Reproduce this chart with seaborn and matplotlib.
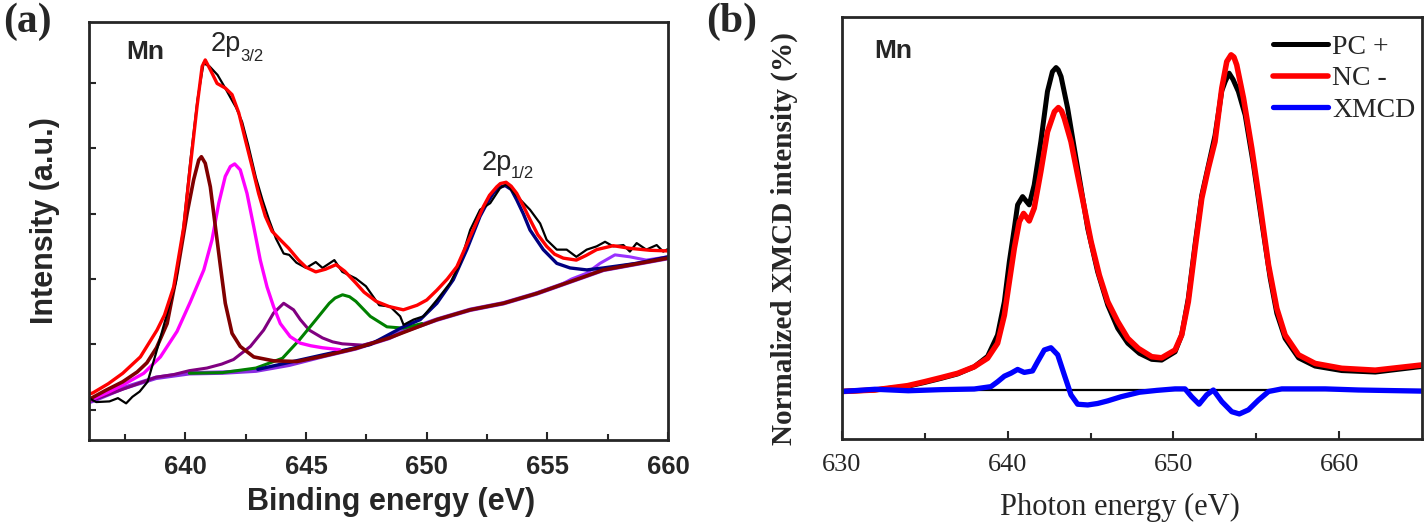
import numpy as np
import matplotlib
matplotlib.use("Agg")
import matplotlib.pyplot as plt
import seaborn as sns

# ---------------- panel (a): Mn 2p XPS ----------------
exp_e = [636.0, 636.3, 636.85, 637.2, 637.54, 637.8, 638.1, 638.43, 638.78, 639.13, 639.6, 639.9,
         640.2, 640.5, 640.75, 641.0, 641.33, 641.6, 641.9, 642.1, 642.35, 642.6, 642.92, 643.2,
         643.47, 643.75, 644.07, 644.3, 644.6, 645.0, 645.4, 645.68, 646.17, 646.5, 647.06, 647.48,
         648.03, 648.48, 648.9, 649.04, 649.45, 649.86, 650.42, 650.97, 651.38, 651.8, 652.21, 652.63,
         653.04, 653.3, 653.73, 654.28, 654.7, 654.97, 655.39, 655.8, 656.2, 656.63, 657.04, 657.39,
         657.73, 658.15, 658.42, 658.7, 659.1, 659.53, 659.8, 660.0]
exp_i = [1.18, 1.12, 1.13, 1.18, 1.10, 1.20, 1.28, 1.43, 1.87, 2.33, 2.95, 3.75,
         4.80, 5.75, 6.30, 6.25, 6.12, 5.95, 5.75, 5.62, 5.40, 5.05, 4.55, 4.20,
         3.90, 3.62, 3.39, 3.37, 3.25, 3.17, 3.26, 3.17, 3.29, 3.11, 3.01, 2.89,
         2.60, 2.58, 2.43, 2.30, 2.38, 2.43, 2.68, 2.94, 3.24, 3.75, 4.06, 4.16,
         4.39, 4.45, 4.27, 4.06, 3.85, 3.60, 3.45, 3.45, 3.34, 3.45, 3.50, 3.57,
         3.50, 3.52, 3.42, 3.55, 3.45, 3.52, 3.42, 3.46]

fit_e = [636.0, 636.16, 636.8, 637.4, 638.13, 638.82, 639.13, 639.51, 639.93, 640.2, 640.48, 640.69,
         640.82, 641.03, 641.31, 641.65, 641.93, 642.21, 642.48, 642.76, 643.03, 643.31, 643.59, 643.93,
         644.28, 644.69, 645.0, 645.4, 645.8, 646.24, 646.6, 647.06, 647.4, 647.9, 648.44, 649.03,
         649.6, 650.0, 650.42, 650.85, 651.25, 651.8, 652.35, 652.6, 652.9, 653.05, 653.29, 653.5,
         653.73, 654.0, 654.28, 654.6, 654.97, 655.3, 655.66, 656.2, 656.6, 657.04, 657.73, 658.42,
         659.25, 660.0]
fit_i = [1.24, 1.26, 1.40, 1.56, 1.81, 2.22, 2.45, 2.88, 3.80, 4.72, 5.64, 6.25,
         6.35, 6.20, 5.99, 5.92, 5.82, 5.54, 5.13, 4.72, 4.31, 3.96, 3.73, 3.60,
         3.47, 3.29, 3.18, 3.11, 3.15, 3.22, 3.12, 2.94, 2.80, 2.66, 2.58, 2.53,
         2.60, 2.68, 2.83, 3.00, 3.19, 3.65, 4.11, 4.28, 4.41, 4.46, 4.48, 4.42,
         4.31, 4.12, 3.91, 3.68, 3.50, 3.38, 3.32, 3.29, 3.36, 3.45, 3.51, 3.47,
         3.44, 3.43]

bg_e = [636.0, 636.16, 637.4, 638.78, 640.16, 641.54, 642.92, 644.3, 645.68, 647.06, 648.44, 649.03,
        650.42, 651.8, 653.18, 654.56, 655.94, 657.32, 660.0]
bg_i = [1.12, 1.14, 1.33, 1.49, 1.56, 1.57, 1.60, 1.69, 1.82, 1.94, 2.10, 2.20,
        2.38, 2.53, 2.63, 2.78, 2.96, 3.14, 3.32]

p1_e = [636.0, 636.7, 637.4, 638.0, 638.4, 638.8, 639.24, 639.65, 640.07, 640.34, 640.55, 640.66,
        640.82, 641.03, 641.24, 641.45, 641.65, 641.93, 642.27, 642.83, 643.65, 644.62, 645.68, 647.06,
        648.44, 650.42, 651.8, 653.18, 654.56, 655.94, 657.32, 660.0]
p1_i = [1.16, 1.30, 1.43, 1.58, 1.72, 1.95, 2.32, 3.09, 4.01, 4.52, 4.82, 4.87,
        4.77, 4.41, 3.80, 3.19, 2.63, 2.17, 1.97, 1.81, 1.75, 1.74, 1.82, 1.94,
        2.10, 2.38, 2.53, 2.63, 2.78, 2.96, 3.14, 3.32]

p2_e = [636.0, 636.8, 637.4, 638.27, 638.96, 639.65, 640.2, 640.76, 641.1, 641.38, 641.65, 641.86,
        642.04, 642.27, 642.55, 642.83, 643.1, 643.38, 643.65, 643.93, 644.34, 644.76, 645.2, 645.68,
        646.4]
p2_i = [1.14, 1.27, 1.38, 1.56, 1.81, 2.20, 2.65, 3.14, 3.60, 4.16, 4.57, 4.72,
        4.76, 4.67, 4.31, 3.80, 3.29, 2.88, 2.58, 2.32, 2.12, 2.02, 1.98, 1.95,
        1.92]

p3_e = [636.0, 638.78, 639.51, 640.16, 640.89, 641.5, 641.99, 642.69, 643.24, 643.65, 644.07, 644.48,
        644.76, 645.13, 645.68, 646.1, 646.5, 647.34, 648.0]
p3_i = [1.13, 1.50, 1.54, 1.60, 1.64, 1.70, 1.77, 1.97, 2.22, 2.48, 2.63, 2.53,
        2.38, 2.22, 2.10, 2.04, 2.01, 1.99, 2.05]

p4_e = [640.16, 641.54, 642.92, 644.02, 644.72, 645.41, 645.96, 646.2, 646.51, 646.8, 647.06, 647.66,
        648.35, 649.03, 649.8]
p4_i = [1.56, 1.57, 1.64, 1.79, 2.07, 2.38, 2.63, 2.71, 2.76, 2.73, 2.66, 2.43,
        2.27, 2.25, 2.32]

p5_e = [643.0, 645.68, 647.66, 649.03, 649.73, 650.42, 651.1, 651.66, 652.21, 652.5, 652.76, 653.0,
        653.25, 653.5, 653.73, 654.0, 654.28, 654.83, 655.39, 655.94, 656.63, 657.32, 658.7, 660.0]
p5_i = [1.62, 1.84, 2.00, 2.27, 2.38, 2.63, 2.99, 3.45, 3.96, 4.16, 4.31, 4.40,
        4.43, 4.37, 4.21, 4.00, 3.75, 3.45, 3.24, 3.17, 3.14, 3.17, 3.24, 3.34]

p6_e = [654.5, 655.5, 656.0, 656.63, 657.18, 657.8, 658.42, 659.1, 660.0]
p6_i = [2.78, 2.90, 3.00, 3.09, 3.24, 3.37, 3.34, 3.29, 3.34]

# ---------------- panel (b): XMCD ----------------
pc_e = [630.0, 631.95, 633.96, 634.97, 635.97, 636.98, 637.98, 638.79, 639.39, 639.8, 640.1, 640.4,
        640.6, 640.9, 641.3, 641.6, 642.0, 642.4, 642.7, 642.92, 643.05, 643.22, 643.62, 644.02,
        644.43, 644.83, 645.43, 646.04, 646.64, 647.25, 647.95, 648.69, 649.29, 650.1, 650.5, 650.9,
        651.31, 651.71, 652.11, 652.51, 652.92, 653.12, 653.36, 653.6, 653.92, 654.33, 654.83, 655.33,
        655.84, 656.24, 656.74, 657.55, 658.55, 660.16, 662.18, 665.0]
pc_i = [-0.4, 0.0, 1.0, 2.0, 3.1, 4.3, 6.2, 9.0, 14.7, 23.6, 34.3, 43.2,
        49.5, 51.7, 49.5, 54.8, 66.4, 79.8, 85.1, 86.2, 85.6, 83.8, 75.3, 64.6,
        53.9, 43.2, 31.6, 22.7, 16.5, 12.5, 9.8, 8.2, 8.0, 10.2, 14.7, 24.5,
        39.0, 52.0, 60.0, 68.0, 80.0, 82.4, 84.7, 83.0, 79.8, 73.5, 60.2, 45.0,
        29.9, 20.5, 13.8, 8.6, 6.4, 5.2, 4.8, 6.3]

nc_e = [630.0, 631.95, 633.96, 634.97, 635.97, 636.98, 637.98, 638.79, 639.39, 639.8, 640.1, 640.4,
        640.7, 640.96, 641.3, 641.6, 642.0, 642.4, 642.82, 643.06, 643.25, 643.42, 643.82, 644.22,
        644.63, 645.03, 645.53, 646.04, 646.64, 647.25, 647.89, 648.69, 649.29, 650.1, 650.5, 650.9,
        651.31, 651.71, 652.11, 652.51, 652.92, 653.22, 653.48, 653.65, 653.82, 654.23, 654.73, 655.23,
        655.74, 656.24, 656.74, 657.55, 658.55, 660.16, 662.18, 665.0]
nc_i = [-0.4, 0.0, 1.16, 2.2, 3.3, 4.46, 6.2, 8.5, 12.5, 20.0, 29.0, 37.9,
        45.0, 47.2, 45.2, 48.6, 58.4, 69.0, 74.4, 75.5, 74.6, 72.6, 66.4, 57.5,
        48.6, 39.7, 30.7, 23.6, 18.3, 13.8, 11.1, 8.9, 8.6, 10.7, 14.7, 23.6,
        37.9, 51.2, 59.3, 66.4, 80.7, 87.8, 89.6, 89.0, 86.9, 78.0, 64.6, 49.5,
        33.4, 21.8, 14.7, 9.4, 7.1, 5.8, 5.3, 6.7]

xm_e = [630.0, 632.0, 634.0, 636.0, 637.98, 638.99, 639.39, 639.8, 640.2, 640.6, 641.0, 641.5,
        641.81, 642.21, 642.61, 643.02, 643.42, 643.82, 644.22, 644.83, 645.43, 646.04, 646.84, 647.95,
        649.0, 650.1, 650.7, 651.1, 651.55, 652.01, 652.41, 652.92, 653.52, 653.98, 654.53, 655.13,
        655.74, 656.54, 659.16, 661.17, 665.0]
xm_i = [-0.4, 0.2, -0.2, 0.1, 0.27, 0.9, 2.2, 3.7, 4.5, 5.5, 4.7, 5.1,
        7.6, 10.7, 11.3, 9.4, 4.0, -1.3, -3.8, -4.0, -3.6, -2.9, -1.8, -0.6,
        -0.1, 0.3, 0.3, -1.8, -3.8, -1.3, 0.0, -3.1, -5.8, -6.4, -5.3, -2.7,
        -0.4, 0.3, 0.3, 0.0, -0.3]

sns.set_style("ticks")
plt.rcParams['font.family'] = ['Liberation Sans', 'DejaVu Sans']

fig = plt.figure(figsize=(14.28, 5.23), dpi=100)
ax1 = fig.add_axes([0.0623, 0.1587, 0.4055, 0.7993])
ax2 = fig.add_axes([0.5896, 0.1606, 0.4062, 0.8075])

# panel (a)
sns.lineplot(x=bg_e, y=bg_i, ax=ax1, color="#8a2be2", lw=3.2, estimator=None)
sns.lineplot(x=p3_e, y=p3_i, ax=ax1, color="#800080", lw=2.2, estimator=None)
sns.lineplot(x=p4_e, y=p4_i, ax=ax1, color="#008000", lw=2.2, estimator=None)
sns.lineplot(x=p6_e, y=p6_i, ax=ax1, color="#9932ff", lw=2.2, estimator=None)
sns.lineplot(x=p5_e, y=p5_i, ax=ax1, color="#000080", lw=2.4, estimator=None)
sns.lineplot(x=p2_e, y=p2_i, ax=ax1, color="#ff00ff", lw=2.4, estimator=None)
sns.lineplot(x=p1_e, y=p1_i, ax=ax1, color="#800000", lw=2.6, estimator=None)
sns.lineplot(x=exp_e, y=exp_i, ax=ax1, color="black", lw=1.6, estimator=None)
sns.lineplot(x=fit_e, y=fit_i, ax=ax1, color="#ff0000", lw=2.4, estimator=None)

ax1.set_xlim(636, 660)
ax1.set_ylim(0.54, 6.93)
ax1.set_xticks([640, 645, 650, 655, 660])
ax1.set_xticks([637.5, 642.5, 647.5, 652.5, 657.5], minor=True)
ax1.set_yticks([1, 2, 3, 4, 5, 6])
ax1.set_yticklabels([])
ax1.tick_params(axis='x', which='major', direction='in', length=6, width=1.5, pad=11, labelsize=18.5)
ax1.tick_params(axis='x', which='minor', direction='in', length=4, width=1.5)
ax1.tick_params(axis='y', which='major', direction='in', length=5, width=1.5)
for lab in ax1.get_xticklabels():
    lab.set_fontweight('bold')
for s in ax1.spines.values():
    s.set_linewidth(2)
ax1.set_xlabel("Binding energy (eV)", fontsize=22, fontweight='bold')
ax1.set_ylabel("Intensity (a.u.)", fontsize=22, fontweight='bold')
ax1.xaxis.set_label_coords(0.522, -0.112)
ax1.yaxis.set_label_coords(-0.05, 0.524)
ax1.text(637.55, 6.37, "Mn", fontsize=19, fontweight='bold')
ax1.text(641.06, 6.48, "2p", fontsize=19.5)
ax1.text(642.27, 6.33, "3/2", fontsize=12)
ax1.text(652.28, 4.66, "2p", fontsize=19.5)
ax1.text(653.5, 4.55, "1/2", fontsize=12)

# panel (b)
ax2.axhline(0, color="black", lw=1.6)
sns.lineplot(x=pc_e, y=pc_i, ax=ax2, color="black", lw=3.6, estimator=None, label="PC +")
sns.lineplot(x=nc_e, y=nc_i, ax=ax2, color="#ff0000", lw=4.0, estimator=None, label="NC -")
sns.lineplot(x=xm_e, y=xm_i, ax=ax2, color="#0000ff", lw=3.8, estimator=None, label="XMCD")

ax2.set_xlim(630, 665)
ax2.set_ylim(-13.1, 99.8)
ax2.set_xticks([630, 640, 650, 660])
ax2.set_xticks([635, 645, 655], minor=True)
ax2.set_yticks([])
ax2.tick_params(axis='x', which='major', direction='in', length=6, width=1.5, pad=11, labelsize=19)
ax2.tick_params(axis='x', which='minor', direction='in', length=4, width=1.5)
for lab in ax2.get_xticklabels():
    lab.set_family('Liberation Serif')
for s in ax2.spines.values():
    s.set_linewidth(2)
ax2.set_xlabel("Photon energy (eV)", fontsize=22, family='Liberation Serif')
ax2.set_ylabel("Normalized XMCD intensity (%)", fontsize=21, fontweight='bold', family='Liberation Serif')
ax2.xaxis.set_label_coords(0.479, -0.128)
ax2.yaxis.set_label_coords(-0.076, 0.475)
ax2.text(631.93, 88.8, "Mn", fontsize=19, fontweight='bold')
ax2.legend(loc='upper left', bbox_to_anchor=(0.743, 0.958), frameon=False,
           prop={'family': 'Liberation Serif', 'size': 20}, handlelength=1.98,
           handletextpad=0.15, labelspacing=0.22, borderpad=0, borderaxespad=0)

fig.text(0.002, 0.996, "(a)", fontsize=30, fontweight='bold', family='Liberation Serif', va='top')
fig.text(0.4945, 0.996, "(b)", fontsize=30, fontweight='bold', family='Liberation Serif', va='top')

fig.savefig("out.png", dpi=100)
